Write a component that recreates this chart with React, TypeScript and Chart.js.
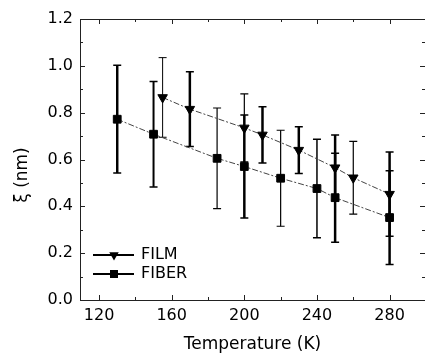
import React, { useEffect, useRef } from "react";
import { Chart, registerables } from "chart.js";
Chart.register(...registerables);

const filmT = [155, 170, 200, 210, 230, 250, 260, 280];
const filmXi = [0.865, 0.815, 0.735, 0.705, 0.64, 0.565, 0.522, 0.452];
const filmErr = [0.17, 0.16, 0.145, 0.12, 0.1, 0.14, 0.155, 0.18];
const filmErrW = [1, 2.5, 1.2, 2.5, 2.5, 2.5, 1.2, 2.5];

const fiberT = [130, 150, 185, 200, 220, 240, 250, 280];
const fiberXi = [0.772, 0.708, 0.605, 0.57, 0.52, 0.476, 0.437, 0.352];
const fiberErr = [0.23, 0.225, 0.215, 0.22, 0.205, 0.21, 0.19, 0.2];
const fiberErrW = [2.5, 2, 1.2, 2.5, 1.2, 1.5, 2.5, 2.5];

const xTicks = [120, 160, 200, 240, 280];
const xMinor = [140, 180, 220, 260];
const yTicks = [0, 0.2, 0.4, 0.6, 0.8, 1.0, 1.2];
const yMinor = [0.1, 0.3, 0.5, 0.7, 0.9, 1.1];

const seriesNames = ["FILM", "FIBER"];
const FONT = "'DejaVu Sans', sans-serif";

const errPlugin = {
  id: "errbars",
  beforeDatasetsDraw(chart: any) {
    const { ctx, scales } = chart;
    const xs = scales.x, ys = scales.y;
    const sets = [
      [filmT, filmXi, filmErr, filmErrW],
      [fiberT, fiberXi, fiberErr, fiberErrW],
    ];
    ctx.save();
    ctx.strokeStyle = "#000";
    for (const [t, v, e, w] of sets) {
      for (let i = 0; i < t.length; i++) {
        const x = xs.getPixelForValue(t[i]);
        const y1 = ys.getPixelForValue(v[i] + e[i]);
        const y2 = ys.getPixelForValue(v[i] - e[i]);
        ctx.lineWidth = w[i];
        ctx.beginPath();
        ctx.moveTo(x, y1);
        ctx.lineTo(x, y2);
        ctx.stroke();
        ctx.lineWidth = Math.min(w[i], 1.5);
        ctx.beginPath();
        ctx.moveTo(x - 4, y1);
        ctx.lineTo(x + 4, y1);
        ctx.moveTo(x - 4, y2);
        ctx.lineTo(x + 4, y2);
        ctx.stroke();
      }
    }
    ctx.restore();
  },
  afterDraw(chart: any) {
    const { ctx, chartArea: a, scales } = chart;
    const xs = scales.x, ys = scales.y;
    ctx.save();
    ctx.strokeStyle = "#222";
    ctx.lineWidth = 1;
    ctx.beginPath();
    ctx.moveTo(a.left + 0.5, a.top + 0.5);
    ctx.lineTo(a.left + 0.5, a.bottom + 0.5);
    ctx.lineTo(a.right + 0.5, a.bottom + 0.5);
    ctx.lineTo(a.right + 0.5, a.top + 0.5);
    ctx.lineTo(a.left + 0.5, a.top + 0.5);
    const xt = (v: number, len: number) => {
      const x = Math.round(xs.getPixelForValue(v)) + 0.5;
      ctx.moveTo(x, a.bottom);
      ctx.lineTo(x, a.bottom - len);
      ctx.moveTo(x, a.top);
      ctx.lineTo(x, a.top + len);
    };
    xTicks.forEach((v) => xt(v, 5));
    xMinor.forEach((v) => xt(v, 3));
    const yt = (v: number, len: number) => {
      const y = Math.round(ys.getPixelForValue(v)) + 0.5;
      ctx.moveTo(a.left, y);
      ctx.lineTo(a.left + len, y);
      ctx.moveTo(a.right, y);
      ctx.lineTo(a.right - len, y);
    };
    yTicks.forEach((v) => yt(v, 5));
    yMinor.forEach((v) => yt(v, 3));
    ctx.stroke();

    ctx.fillStyle = "#000";
    ctx.font = `17px ${FONT}`;
    ctx.textAlign = "center";
    ctx.textBaseline = "middle";
    ctx.translate(23, 175);
    ctx.rotate(-Math.PI / 2);
    ctx.fillText("ξ (nm)", 0, 0);
    ctx.restore();

    ctx.save();
    const rows = [
      { y: 255, style: "tri" },
      { y: 274, style: "sq" },
    ];
    rows.forEach((r, i) => {
      ctx.strokeStyle = "#000";
      ctx.lineWidth = 2;
      ctx.beginPath();
      ctx.moveTo(93, r.y);
      ctx.lineTo(134, r.y);
      ctx.stroke();
      ctx.fillStyle = "#000";
      ctx.beginPath();
      if (r.style === "tri") {
        const rad = 5.5;
        ctx.moveTo(114 - rad * 0.866, r.y - rad * 0.5);
        ctx.lineTo(114 + rad * 0.866, r.y - rad * 0.5);
        ctx.lineTo(114, r.y + rad);
        ctx.closePath();
      } else {
        ctx.rect(110, r.y - 4, 8, 8);
      }
      ctx.fill();
      ctx.font = `16px ${FONT}`;
      ctx.textAlign = "left";
      ctx.textBaseline = "middle";
      ctx.fillText(seriesNames[i], 141, r.y);
    });
    ctx.restore();
  },
};

export default function App() {
  const ref = useRef<HTMLCanvasElement>(null);
  useEffect(() => {
    if (!ref.current) return;
    const chart = new Chart(ref.current, {
      type: "scatter",
      data: {
        datasets: [
          {
            label: seriesNames[0],
            data: filmT.map((t, i) => ({ x: t, y: filmXi[i] })),
            showLine: true,
            borderColor: "#444",
            borderWidth: 1,
            borderDash: [6, 2, 2, 2],
            pointStyle: "triangle",
            rotation: 180,
            pointRadius: 5.5,
            pointBackgroundColor: "#000",
            pointBorderColor: "#000",
            pointBorderWidth: 1,
          },
          {
            label: seriesNames[1],
            data: fiberT.map((t, i) => ({ x: t, y: fiberXi[i] })),
            showLine: true,
            borderColor: "#444",
            borderWidth: 1,
            borderDash: [6, 2, 2, 2],
            pointStyle: "rect",
            pointRadius: 5.5,
            pointBackgroundColor: "#000",
            pointBorderColor: "#000",
            pointBorderWidth: 1,
          },
        ],
      },
      options: {
        responsive: false,
        animation: false,
        layout: { autoPadding: false, padding: { top: 19, left: 0, right: 0, bottom: 0 } },
        plugins: { legend: { display: false }, tooltip: { enabled: false } },
        scales: {
          x: {
            type: "linear",
            min: 109.5,
            max: 299.5,
            grid: { display: false, drawTicks: false },
            border: { display: false },
            afterBuildTicks: (s: any) => {
              s.ticks = xTicks.map((v) => ({ value: v }));
            },
            afterFit: (s: any) => {
              s.height = 56;
            },
            ticks: {
              color: "#000",
              font: { family: FONT, size: 16 },
              padding: 6,
              maxRotation: 0,
              autoSkip: false,
              callback: (v: any) => String(v),
            },
            title: {
              display: true,
              text: "Temperature (K)",
              color: "#000",
              font: { family: FONT, size: 17 },
              padding: { top: 0, bottom: 1 },
            },
          },
          y: {
            type: "linear",
            min: 0,
            max: 1.2,
            grid: { display: false, drawTicks: false },
            border: { display: false },
            afterBuildTicks: (s: any) => {
              s.ticks = yTicks.map((v) => ({ value: v }));
            },
            afterFit: (s: any) => {
              s.width = 80;
            },
            ticks: {
              color: "#000",
              font: { family: FONT, size: 16 },
              padding: 7,
              autoSkip: false,
              callback: (v: any) => Number(v).toFixed(1),
            },
          },
        },
      },
      plugins: [errPlugin],
    });
    return () => chart.destroy();
  }, []);
  return (
    <div style={{ position: "fixed", left: 0, top: 0, width: 425, height: 356, background: "#fff" }}>
      <canvas ref={ref} width={425} height={356} style={{ display: "block" }} />
    </div>
  );
}
